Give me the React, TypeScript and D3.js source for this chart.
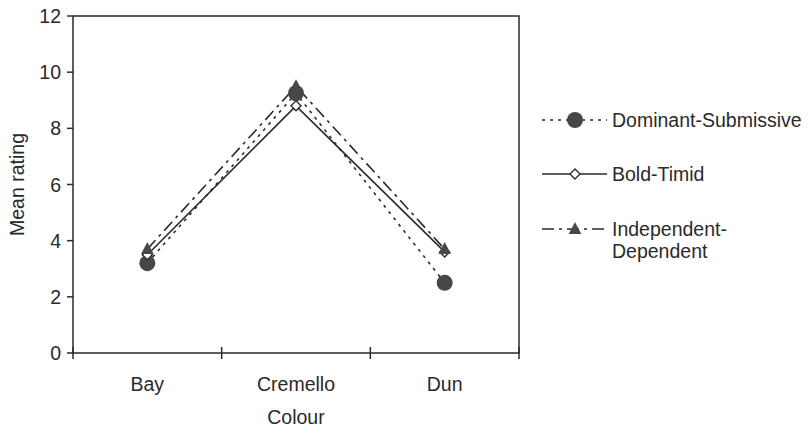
import React from "react";
import * as d3 from "d3";

const categories = ["Bay", "Cremello", "Dun"];
const dominantSubmissive = [3.2, 9.25, 2.5];
const boldTimid = [3.5, 8.8, 3.6];
const independentDependent = [3.7, 9.5, 3.7];
const yTicks = [0, 2, 4, 6, 8, 10, 12];

const W = 811, H = 427;
const M = { left: 73, right: 519, top: 16, bottom: 353 };
const font = "Liberation Sans, Arial, sans-serif";
const ink = "#2a2a2a";
const fs = 19.5;

export default function App() {
  const x = d3.scaleBand<string>().domain(categories).range([M.left, M.right]);
  const y = d3.scaleLinear().domain([0, 12]).range([M.bottom, M.top]);
  const cx = (c: string) => (x(c) as number) + x.bandwidth() / 2;
  const line = d3.line<number>().x((_, i) => cx(categories[i])).y((d) => y(d));

  const series = [
    { name: "ds", values: dominantSubmissive, dash: "3,5", marker: "circle" },
    { name: "bt", values: boldTimid, dash: "none", marker: "diamond" },
    { name: "id", values: independentDependent, dash: "12,5,3,5", marker: "triangle" },
  ];

  const marker = (type: string, px: number, py: number, key: string) => {
    if (type === "circle")
      return <circle key={key} cx={px} cy={py} r={8} fill="#474747" />;
    if (type === "diamond") {
      const s = 5;
      return (
        <path key={key} d={`M${px},${py - s}L${px + s},${py}L${px},${py + s}L${px - s},${py}Z`}
          fill="#fff" stroke={ink} strokeWidth={1.4} />
      );
    }
    const s = 7;
    return (
      <path key={key} d={`M${px},${py - s}L${px + s * 0.9},${py + s * 0.7}L${px - s * 0.9},${py + s * 0.7}Z`}
        fill="#474747" />
    );
  };

  const legend = [
    { label: ["Dominant-Submissive"], dash: "3,5", marker: "circle", y: 120 },
    { label: ["Bold-Timid"], dash: "none", marker: "diamond", y: 174 },
    { label: ["Independent-", "Dependent"], dash: "12,5,3,5", marker: "triangle", y: 229 },
  ];

  return (
    <svg width={W} height={H} style={{ position: "absolute", left: 0, top: 0, background: "#fff" }}>
      <rect x={M.left} y={M.top} width={M.right - M.left} height={M.bottom - M.top}
        fill="none" stroke={ink} strokeWidth={1.5} />
      {yTicks.map((t) => (
        <g key={t}>
          <line x1={M.left - 6} x2={M.left} y1={y(t)} y2={y(t)} stroke={ink} strokeWidth={1.5} />
          <text x={M.left - 12} y={y(t)} dy="0.36em" textAnchor="end" fontFamily={font} fontSize={fs} fill={ink}>{t}</text>
        </g>
      ))}
      {[M.left, ...categories.slice(1).map((c) => x(c) as number), M.right].map((px, i) => (
        <line key={i} x1={px} x2={px} y1={M.bottom - 6} y2={M.bottom + 6} stroke={ink} strokeWidth={1.5} />
      ))}
      {categories.map((c) => (
        <text key={c} x={cx(c)} y={391} textAnchor="middle" fontFamily={font} fontSize={fs} fill={ink}>{c}</text>
      ))}
      <text x={(M.left + M.right) / 2} y={424} textAnchor="middle" fontFamily={font} fontSize={fs} fill={ink}>Colour</text>
      <text transform={`translate(24,${(M.top + M.bottom) / 2}) rotate(-90)`} textAnchor="middle"
        fontFamily={font} fontSize={fs} fill={ink}>Mean rating</text>
      {series.map((s) => (
        <path key={s.name} d={line(s.values) as string} fill="none" stroke={ink} strokeWidth={1.6}
          strokeDasharray={s.dash} />
      ))}
      {series.map((s) => s.values.map((v, i) => marker(s.marker, cx(categories[i]), y(v), s.name + i)))}
      {legend.map((l, i) => (
        <g key={i}>
          <line x1={542} x2={607} y1={l.y} y2={l.y} stroke={ink} strokeWidth={1.6} strokeDasharray={l.dash} />
          {marker(l.marker, 575, l.y, "lg" + i)}
          {l.label.map((t, j) => (
            <text key={j} x={612} y={l.y + j * 22} dy="0.36em" fontFamily={font} fontSize={fs} fill={ink}>{t}</text>
          ))}
        </g>
      ))}
    </svg>
  );
}
